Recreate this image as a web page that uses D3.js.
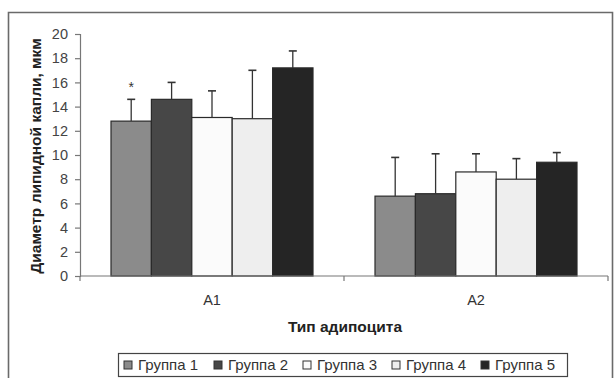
<!DOCTYPE html>
<html>
<head>
<meta charset="utf-8">
<script src="https://cdn.jsdelivr.net/npm/d3@7"></script>
<style>
  html, body { margin: 0; padding: 0; background: #fff; }
  svg { display: block; font-family: "Liberation Sans", Arial, sans-serif; }
</style>
</head>
<body>
<svg id="chart" width="616" height="378"></svg>
<script>
// Adipocyte types on the category axis
const categories = ["A1", "A2"];
// Study groups (one bar per group within each category)
const groups = ["Группа 1", "Группа 2", "Группа 3", "Группа 4", "Группа 5"];
// Mean lipid droplet diameter, µm
const meansA1 = [12.8, 14.6, 13.1, 13.0, 17.2];
const meansA2 = [6.6, 6.8, 8.6, 8.0, 9.4];
// Standard deviation (upper whisker)
const sdA1 = [1.8, 1.4, 2.2, 4.0, 1.4];
const sdA2 = [3.2, 3.3, 1.5, 1.7, 0.8];
// Value axis ticks
const yTicks = [0, 2, 4, 6, 8, 10, 12, 14, 16, 18, 20];
// Significance marks per category/group
const marksA1 = ["*", "", "", "", ""];
const marksA2 = ["", "", "", "", ""];

const groupColors = ["#8b8b8b", "#474747", "#fbfbfb", "#eeeeee", "#252525"];

const rows = [
  { cat: categories[0], means: meansA1, sd: sdA1, marks: marksA1 },
  { cat: categories[1], means: meansA2, sd: sdA2, marks: marksA2 }
];

const svg = d3.select("#chart");

// chart frame
svg.append("path")
  .attr("d", "M8.5,378 V12.5 H612.5 V378")
  .attr("fill", "none")
  .attr("stroke", "#6a6a6a")
  .attr("stroke-width", 1.6);

const plot = { left: 80, right: 608, top: 34, bottom: 276 };

const x0 = d3.scaleBand()
  .domain(categories)
  .range([plot.left, plot.right])
  .paddingInner(0)
  .paddingOuter(0);

// 5 bars occupy ~202 of each 264 px band
const innerPad = (x0.bandwidth() - 202) / 2;
const x1 = d3.scaleBand()
  .domain(groups)
  .range([innerPad, x0.bandwidth() - innerPad])
  .padding(0);

const y = d3.scaleLinear().domain([0, 20]).range([plot.bottom, plot.top]);

// bars
const catG = svg.append("g").selectAll("g")
  .data(rows)
  .join("g")
  .attr("transform", d => `translate(${x0(d.cat)},0)`);

const items = catG.selectAll("g.item")
  .data(d => groups.map((g, i) => ({ g, i, v: d.means[i], sd: d.sd[i], mark: d.marks[i] })))
  .join("g").attr("class", "item");

items.append("rect")
  .attr("x", d => x1(d.g))
  .attr("y", d => y(d.v))
  .attr("width", x1.bandwidth())
  .attr("height", d => y(0) - y(d.v))
  .attr("fill", d => groupColors[d.i])
  .attr("stroke", "#2a2a2a")
  .attr("stroke-width", 1.2);

// upper error whiskers
items.append("line")
  .attr("x1", d => x1(d.g) + x1.bandwidth() / 2)
  .attr("x2", d => x1(d.g) + x1.bandwidth() / 2)
  .attr("y1", d => y(d.v))
  .attr("y2", d => y(d.v + d.sd))
  .attr("stroke", "#333")
  .attr("stroke-width", 1.3);
items.append("line")
  .attr("x1", d => x1(d.g) + x1.bandwidth() / 2 - 4)
  .attr("x2", d => x1(d.g) + x1.bandwidth() / 2 + 4)
  .attr("y1", d => y(d.v + d.sd))
  .attr("y2", d => y(d.v + d.sd))
  .attr("stroke", "#333")
  .attr("stroke-width", 1.6);

// significance asterisks
items.filter(d => d.mark)
  .append("text")
  .attr("x", d => x1(d.g) + x1.bandwidth() / 2)
  .attr("y", d => y(d.v + d.sd) - 7)
  .attr("text-anchor", "middle")
  .attr("font-size", 14)
  .attr("fill", "#333")
  .text(d => d.mark);

// y axis
const yAxis = svg.append("g")
  .attr("transform", `translate(${plot.left},0)`)
  .call(d3.axisLeft(y).tickValues(yTicks).tickSize(5).tickPadding(7));
yAxis.select(".domain").attr("stroke", "#777").attr("stroke-width", 1.2);
yAxis.selectAll(".tick line").attr("stroke", "#777").attr("stroke-width", 1.2);
yAxis.selectAll(".tick text")
  .attr("font-size", 14.5)
  .attr("fill", "#444")
  .attr("font-family", "Liberation Sans, Arial, sans-serif");

// x axis with separator ticks between categories
const xAxisG = svg.append("g").attr("transform", `translate(0,${plot.bottom})`);
xAxisG.append("line")
  .attr("x1", plot.left).attr("x2", plot.right)
  .attr("stroke", "#777").attr("stroke-width", 1.2);
const bounds = [plot.left, ...categories.map(c => x0(c) + x0.bandwidth())];
xAxisG.selectAll("line.sep")
  .data(bounds)
  .join("line").attr("class", "sep")
  .attr("x1", d => d).attr("x2", d => d)
  .attr("y1", 0).attr("y2", 5)
  .attr("stroke", "#777").attr("stroke-width", 1.2);
xAxisG.selectAll("text.cat")
  .data(categories)
  .join("text").attr("class", "cat")
  .attr("x", d => x0(d) + x0.bandwidth() / 2)
  .attr("y", 29)
  .attr("text-anchor", "middle")
  .attr("font-size", 14.5)
  .attr("fill", "#333")
  .text(d => d);

// axis titles
svg.append("text")
  .attr("x", (plot.left + plot.right) / 2 + 1)
  .attr("y", 332)
  .attr("text-anchor", "middle")
  .attr("font-size", 15.5)
  .attr("font-weight", "bold")
  .attr("fill", "#222")
  .text("Тип адипоцита");

svg.append("text")
  .attr("transform", `translate(41,${(plot.top + plot.bottom) / 2 + 1}) rotate(-90)`)
  .attr("text-anchor", "middle")
  .attr("font-size", 15.5)
  .attr("font-weight", "bold")
  .attr("fill", "#222")
  .text("Диаметр липидной капли, мкм");

// legend
const legend = svg.append("g");
legend.append("rect")
  .attr("x", 118.5).attr("y", 353.5)
  .attr("width", 449).attr("height", 23)
  .attr("fill", "#fff")
  .attr("stroke", "#444")
  .attr("stroke-width", 1.2);
const legendX = [124, 214, 303, 392, 481];
const li = legend.selectAll("g.li")
  .data(groups)
  .join("g").attr("class", "li")
  .attr("transform", (d, i) => `translate(${legendX[i]},365)`);
li.append("rect")
  .attr("x", 0).attr("y", -4)
  .attr("width", 8).attr("height", 8)
  .attr("fill", (d, i) => groupColors[i])
  .attr("stroke", "#333")
  .attr("stroke-width", 1);
li.append("text")
  .attr("x", 14).attr("y", 5)
  .attr("font-size", 15)
  .attr("fill", "#333")
  .text(d => d);
</script>
</body>
</html>
